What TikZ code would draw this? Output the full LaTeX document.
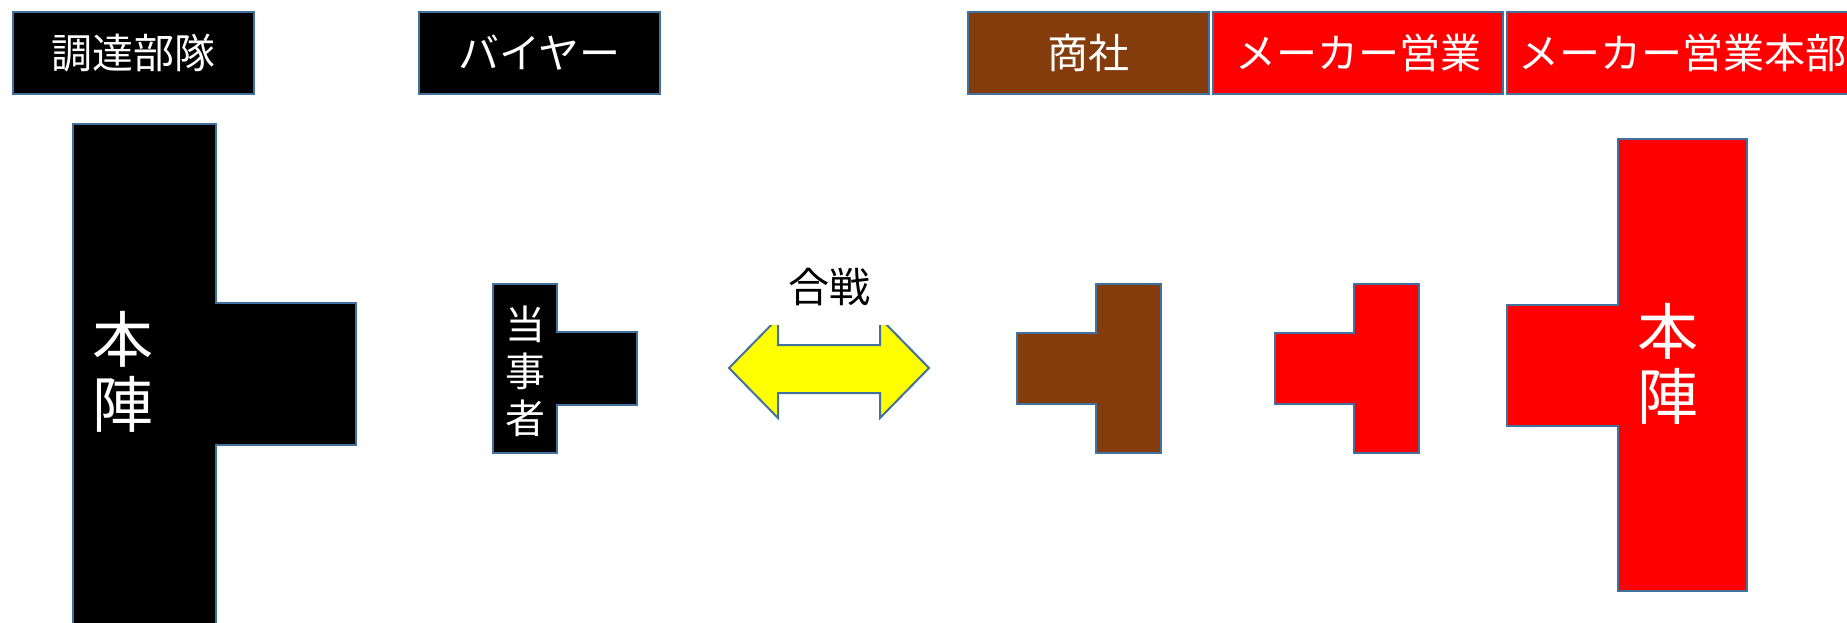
\documentclass[tikz,border=0pt]{standalone}
\usepackage{fontspec}
\setmainfont{Noto Sans CJK JP}
\definecolor{edgeblue}{RGB}{65,113,156}
\definecolor{shosha}{RGB}{132,60,12}
\definecolor{maker}{RGB}{255,0,0}
\definecolor{arrowyellow}{RGB}{255,255,0}
\begin{document}
\begin{tikzpicture}[x=1pt,y=-1pt,
  outline/.style={draw=edgeblue,line width=2pt,line join=miter},
  topbox/.style={outline,minimum height=82pt,inner sep=0pt,text=white,
    font=\fontsize{41}{45}\selectfont},
  vtext/.style={text=white,align=center,inner sep=0pt},
  big/.style={font=\fontsize{61}{65}\selectfont},
  small/.style={font=\fontsize{40}{47}\selectfont}]
\clip (0,0) rectangle (1847,622);
\fill[white] (0,0) rectangle (1847,622);
% top labels
\node[topbox,fill=black,minimum width=241pt] (tb1) at (133.5,53) {調達部隊};
\node[topbox,fill=black,minimum width=241pt] (tb2) at (539.5,53) {バイヤー};
\node[topbox,fill=shosha,minimum width=241pt] (tb3) at (1088.5,53) {商社};
\node[topbox,fill=maker,minimum width=290pt] (tb4) at (1358,53) {メーカー営業};
\node[topbox,fill=maker,minimum width=350pt] (tb5) at (1682,53) {メーカー営業本部};
% left headquarters
\draw[outline,fill=black] (73,124) -- (216,124) -- (216,303) -- (356,303) -- (356,445)
  -- (216,445) -- (216,640) -- (73,640) -- cycle;
\node[vtext,big] (hq1) at (123,372) {本\\陣};
% buyer
\draw[outline,fill=black] (493,284) -- (557,284) -- (557,332) -- (637,332) -- (637,405)
  -- (557,405) -- (557,453) -- (493,453) -- cycle;
\node[vtext,small] (party) at (525,371) {当\\事\\者};
% double arrow
\draw[outline,fill=arrowyellow] (729,368) -- (778,318) -- (778,345) -- (880,345) -- (880,318)
  -- (929,368) -- (880,418) -- (880,393) -- (778,393) -- (778,418) -- cycle;
\node[fill=white,minimum width=150pt,minimum height=76pt,inner sep=0pt,
  font=\fontsize{41}{45}\selectfont] (battle) at (829,287) {合戦};
% trading company
\draw[outline,fill=shosha] (1096,284) -- (1161,284) -- (1161,453) -- (1096,453) -- (1096,404)
  -- (1017,404) -- (1017,333) -- (1096,333) -- cycle;
% maker sales
\draw[outline,fill=maker] (1354,284) -- (1419,284) -- (1419,453) -- (1354,453) -- (1354,404)
  -- (1275,404) -- (1275,333) -- (1354,333) -- cycle;
% maker headquarters
\draw[outline,fill=maker] (1618,139) -- (1747,139) -- (1747,591) -- (1618,591) -- (1618,426)
  -- (1507,426) -- (1507,305) -- (1618,305) -- cycle;
\node[vtext,big] (hq2) at (1668,364) {本\\陣};
\end{tikzpicture}
\end{document}
